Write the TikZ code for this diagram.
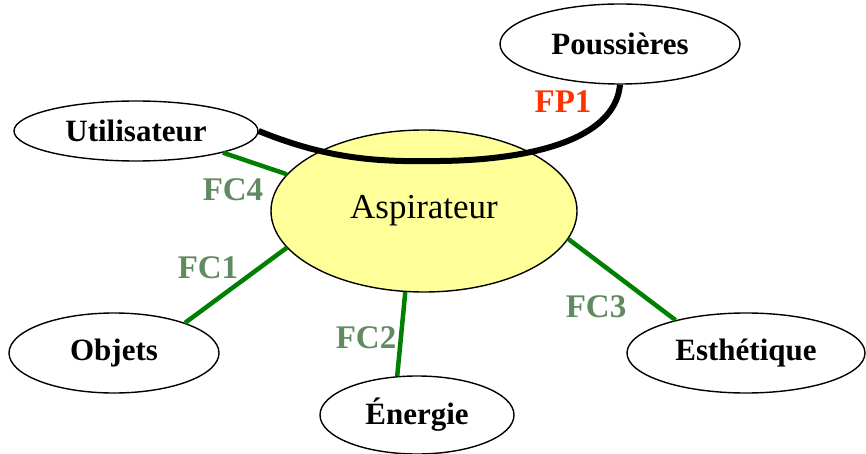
\documentclass[tikz,border=0pt]{standalone}
\usepackage{fontspec}
\setmainfont{Liberation Serif}
\usetikzlibrary{shapes.geometric}
\definecolor{fillyellow}{HTML}{FFFF99}
\definecolor{linegreen}{HTML}{008000}
\definecolor{labelgreen}{HTML}{608A60}
\definecolor{fpred}{HTML}{FF3300}
\tikzset{
  env/.style={ellipse, draw=black, line width=1.4pt, fill=white, inner sep=0pt,
    font=\fontsize{31}{36}\selectfont\bfseries},
  core/.style={ellipse, draw=black, line width=1.4pt, fill=fillyellow, inner sep=0pt,
    font=\fontsize{35}{40}\selectfont},
  fclink/.style={draw=linegreen, line width=4.5pt},
  fplink/.style={draw=black, line width=6pt},
  fclabel/.style={text=labelgreen, inner sep=0pt, font=\fontsize{33}{38}\selectfont\bfseries},
  fplabel/.style={text=fpred, inner sep=0pt, font=\fontsize{33}{38}\selectfont\bfseries}
}
\begin{document}
\begin{tikzpicture}[x=1pt,y=-1pt]
\useasboundingbox (0,0) rectangle (866,454);
\node[core, minimum width=306pt, minimum height=162pt] (A) at (424,211) {Aspirateur};
\node[env, minimum width=244pt, minimum height=60pt] (U) at (136,131) {Utilisateur};
\node[env, minimum width=240pt, minimum height=80pt] (P) at (620,44) {Poussières};
\node[env, minimum width=210pt, minimum height=80pt] (O) at (114,353) {Objets};
\node[env, minimum width=194pt, minimum height=78pt] (E) at (417,415) {Énergie};
\node[env, minimum width=238pt, minimum height=80pt] (S) at (746,353) {Esthétique};
% FP1 curve
\coordinate (low) at (440,161);
\draw[fplink] (U.east) .. controls (330,160) and (380,162) .. (low)
  .. controls (530,160) and (615,140) .. (P.south);
% FC links
\draw[fclink] (A.165) -- (U.-14);
\draw[fclink] (A.195) -- (O.23);
\draw[fclink] (A.257) -- (E.117);
\draw[fclink] (A.-11) -- (S.155);
% labels
\node[fplabel] (fp1) at (563,102) {FP1};
\node[fclabel] (fc4) at (233,190) {FC4};
\node[fclabel] (fc1) at (208,268) {FC1};
\node[fclabel] (fc2) at (366,338) {FC2};
\node[fclabel] (fc3) at (596,307) {FC3};
\end{tikzpicture}
\end{document}
